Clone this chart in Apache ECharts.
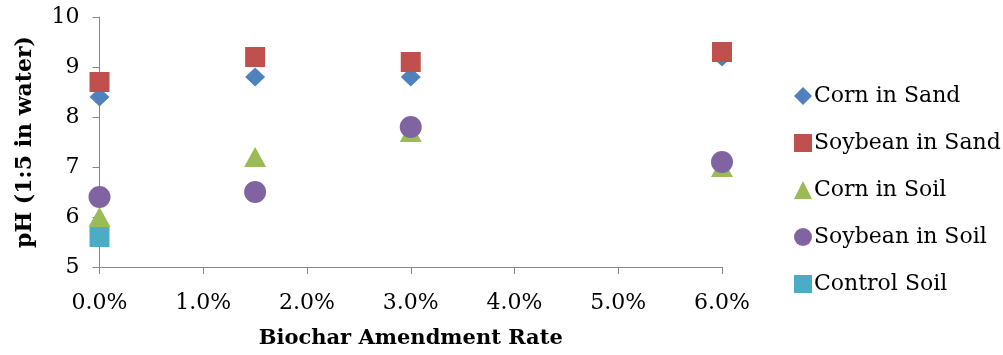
<!DOCTYPE html>
<html>
<head>
<meta charset="utf-8">
<script src="https://cdn.jsdelivr.net/npm/echarts@6/dist/echarts.min.js"></script>
<style>
  html, body { margin: 0; padding: 0; background: #fff; }
  #chart { width: 1003px; height: 355px; }
</style>
</head>
<body>
<div id="chart"></div>
<script>
// Biochar amendment rate (%) and measured pH for each treatment
const rates = [0, 1.5, 3, 6];
const cornInSand = [8.4, 8.8, 8.8, 9.2];
const soybeanInSand = [8.7, 9.2, 9.1, 9.3];
const cornInSoil = [6.0, 7.2, 7.7, 7.0];
const soybeanInSoil = [6.4, 6.5, 7.8, 7.1];
const controlRates = [0];
const controlSoil = [5.6];

const seriesNames = ['Corn in Sand', 'Soybean in Sand', 'Corn in Soil', 'Soybean in Soil', 'Control Soil'];
const seriesColors = ['#4F81BD', '#C0504D', '#9BBB59', '#8064A2', '#4BACC6'];
const seriesSymbols = ['diamond', 'rect', 'triangle', 'circle', 'rect'];
const seriesSizes = [[20, 19], 20, [22, 20], 22, 20];

const FONT = 'DejaVu Serif';

function pairs(xs, ys) {
  return xs.map((x, i) => [x, ys[i]]);
}

const seriesData = [
  pairs(rates, cornInSand),
  pairs(rates, soybeanInSand),
  pairs(rates, cornInSoil),
  pairs(rates, soybeanInSoil),
  pairs(controlRates, controlSoil)
];

const chart = echarts.init(document.getElementById('chart'), null, { renderer: 'canvas' });

chart.setOption({
  animation: false,
  grid: { left: 99.5, right: 281, top: 17, bottom: 88, containLabel: false },
  xAxis: {
    type: 'value',
    min: 0, max: 6, interval: 1,
    name: 'Biochar Amendment Rate',
    nameLocation: 'middle',
    nameGap: 61,
    nameTextStyle: { fontFamily: FONT, fontWeight: 'bold', fontSize: 21, color: '#000' },
    axisLine: { lineStyle: { color: '#868686', width: 1 } },
    axisTick: { show: true, length: 7, lineStyle: { color: '#868686' } },
    axisLabel: {
      fontFamily: FONT, fontSize: 22, color: '#000', margin: 25,
      formatter: v => v.toFixed(1) + '%'
    },
    splitLine: { show: false }
  },
  yAxis: {
    type: 'value',
    min: 5, max: 10, interval: 1,
    name: 'pH (1:5 in water)',
    nameLocation: 'middle',
    nameGap: 63,
    nameRotate: 90,
    nameTextStyle: { fontFamily: FONT, fontWeight: 'bold', fontSize: 22, color: '#000' },
    axisLine: { show: true, lineStyle: { color: '#868686', width: 1 } },
    axisTick: { show: true, length: 7, lineStyle: { color: '#868686' } },
    axisLabel: { fontFamily: FONT, fontSize: 22, color: '#000', margin: 20 },
    splitLine: { show: false }
  },
  legend: {
    orient: 'vertical',
    left: 789,
    top: 80,
    itemWidth: 18,
    itemHeight: 18,
    itemGap: 25,
    textStyle: { fontFamily: FONT, fontSize: 22, color: '#000', padding: [0, 0, 0, -3] },
    data: seriesNames.map((n, i) => ({ name: n, icon: seriesSymbols[i] }))
  },
  series: seriesNames.map((name, i) => ({
    name: name,
    type: 'scatter',
    symbol: seriesSymbols[i],
    symbolSize: seriesSizes[i],
    itemStyle: { color: seriesColors[i], opacity: 1 },
    data: seriesData[i]
  }))
});
</script>
</body>
</html>
